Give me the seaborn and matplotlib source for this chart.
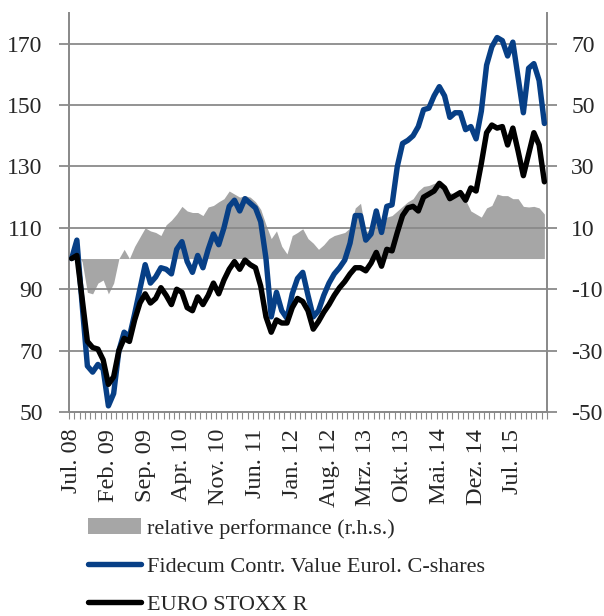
import matplotlib
matplotlib.use("Agg")
import numpy as np
import pandas as pd
import matplotlib.pyplot as plt
import seaborn as sns
from matplotlib.patches import Patch
from matplotlib.lines import Line2D
from matplotlib.ticker import FixedLocator

# monthly index values, Jul 08 .. Jan 16
FUND = [100, 106, 85, 65, 63, 65.5, 64, 52, 56, 70,
        76, 74.5, 82, 90, 98, 92, 94, 97, 96.5, 95,
        103, 105.5, 99, 95.5, 101, 97, 103, 108, 104.5, 110,
        117, 119, 115.5, 119.5, 118, 116.5, 112, 100, 81, 89,
        83, 80.5, 88.5, 93.5, 95.5, 88, 81, 83, 88, 92,
        95, 97, 99.5, 105, 114, 114, 106, 108, 115.5, 108.5,
        117, 117.5, 130, 137.5, 138.5, 140, 143, 148.5, 149, 153,
        156, 153, 146, 147.5, 147.5, 142, 143, 139, 148, 163,
        169, 172, 171, 166, 170.5, 159, 147.5, 162, 163.5, 158,
        144]
INDEX = [100, 101, 87, 73, 71, 70.5, 67, 59, 61.5, 70,
         74, 73, 80, 85.5, 88.5, 85.5, 87, 90.5, 88, 85,
         90, 89, 84, 83, 87.5, 85, 88, 92, 88.5, 93,
         96.5, 99, 96.5, 99.5, 98, 97, 91, 81, 76, 80,
         79, 79, 84, 87, 86, 83, 77, 79.5, 82.5, 85,
         88, 90.5, 92.5, 95, 97, 97, 96, 98.5, 102, 97.5,
         103, 102.5, 108.5, 114, 116.5, 117, 115.5, 120, 121, 122,
         124.5, 123, 119.5, 120.5, 121.5, 119, 123, 122, 131, 141,
         143.5, 142.5, 143, 137, 142.5, 135, 127, 134, 141, 137,
         125]
REL = [0, 2, -1, -11, -11.5, -8, -7, -11.5, -8, 0,
       3, 0, 4, 7, 10, 9, 8.5, 7.5, 11, 12.5,
       14.5, 17, 15.5, 15, 15, 14, 16.8, 17.3, 18.5, 19.5,
       22, 21, 20, 20.5, 20, 18.5, 16, 11, 6.5, 9,
       4, 1.5, 7.5, 8.5, 9.7, 6.5, 5, 3, 4.5, 6.5,
       7.5, 8, 8.5, 10, 16.5, 18, 8.5, 10, 12.5, 8.5,
       13.5, 14, 15.5, 17, 18.5, 19.5, 22, 23.5, 23.8, 24.5,
       25, 23, 21.5, 21, 20.5, 19, 15.5, 14.5, 13.5, 16.5,
       17.3, 21, 20.5, 20.5, 19.5, 19.5, 17, 16.8, 17, 16.5,
       14.5]
TICK_LABELS = ['Jul. 08', 'Feb. 09', 'Sep. 09', 'Apr. 10', 'Nov. 10',
               'Jun. 11', 'Jan. 12', 'Aug. 12', 'Mrz. 13', 'Okt. 13',
               'Mai. 14', 'Dez. 14', 'Jul. 15']
LEFT_TICKS = [50, 70, 90, 110, 130, 150, 170]
RIGHT_TICKS = [-50, -30, -10, 10, 30, 50, 70]

LABEL_REL = 'relative performance (r.h.s.)'
LABEL_FUND = 'Fidecum Contr. Value Eurol. C-shares'
LABEL_INDEX = 'EURO STOXX R'

BLUE = '#073f86'
GREY_FILL = '#a6a6a6'
AXIS_GREY = '#8a8a8a'

sns.set_theme(style="white")
plt.rcParams['font.family'] = ['Liberation Serif', 'DejaVu Serif']
plt.rcParams['axes.unicode_minus'] = False
FS_Y = 17
FS_X = 17.5
FS_LEG = 16

df = pd.DataFrame({'month': np.arange(len(FUND)), 'fund': FUND,
                   'index': INDEX, 'rel': REL})

fig = plt.figure(figsize=(6.04, 6.16), dpi=100)
ax = fig.add_axes([69 / 604, 1 - 412 / 616, 478 / 604, 399 / 616])
ax2 = ax.twinx()
ax.set_zorder(ax2.get_zorder() + 1)
ax.patch.set_visible(False)

# relative performance as area on the right axis
ax2.fill_between(df['month'], 0, df['rel'], color=GREY_FILL, lw=0)

sns.lineplot(data=df, x='month', y='fund', ax=ax, color=BLUE, lw=3.9, zorder=4)
sns.lineplot(data=df, x='month', y='index', ax=ax, color='black', lw=3.9, zorder=5)

ax.set_xlim(-0.5, len(FUND) - 0.5)
ax.set_ylim(50, 180)
ax2.set_ylim(-50, 80)

ax.set_yticks(LEFT_TICKS)
ax2.set_yticks(RIGHT_TICKS)
ax.set_xticks(np.arange(0, len(FUND), 7)[:len(TICK_LABELS)])
ax.set_xticklabels(TICK_LABELS, rotation=90, fontsize=FS_X)
ax.xaxis.set_minor_locator(FixedLocator(np.arange(-0.5, len(FUND), 1)))
ax.set_xlabel('')
ax.set_ylabel('')

ax.yaxis.grid(True, color=AXIS_GREY, lw=1.3, zorder=1)
ax.set_axisbelow(True)

ax.tick_params(axis='y', labelsize=FS_Y, length=7, width=1.3, color=AXIS_GREY,
               direction='out', left=True, pad=12)
ax2.tick_params(axis='y', labelsize=FS_Y, length=7, width=1.3, color=AXIS_GREY,
                direction='out', right=True, pad=10.5)
ax.tick_params(axis='x', which='major', length=0, pad=12)
ax.tick_params(axis='x', which='minor', length=5, width=0.8, color=AXIS_GREY,
               direction='out', bottom=True)

for a in (ax, ax2):
    for side in ('left', 'right', 'bottom'):
        a.spines[side].set_color(AXIS_GREY)
        a.spines[side].set_linewidth(1.3)
    a.spines['top'].set_visible(False)

handles = [Patch(facecolor=GREY_FILL, edgecolor='none'),
           Line2D([], [], color=BLUE, lw=3.9, solid_capstyle='round'),
           Line2D([], [], color='black', lw=3.9, solid_capstyle='round')]
fig.legend(handles, [LABEL_REL, LABEL_FUND, LABEL_INDEX],
           loc='upper left', bbox_to_anchor=(88 / 604, 1 - 518 / 616),
           frameon=False, fontsize=FS_LEG, handlelength=2.4, handletextpad=0.25,
           labelspacing=0.8, borderaxespad=0, borderpad=0)

fig.savefig('out.png', dpi=100)
